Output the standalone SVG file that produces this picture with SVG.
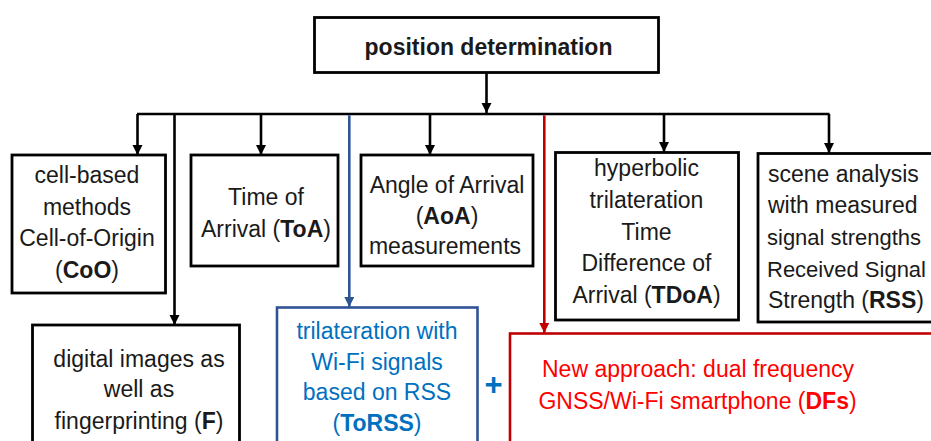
<svg xmlns="http://www.w3.org/2000/svg" width="931" height="441" viewBox="0 0 931 441">
  <defs>
    <marker id="ahK" markerUnits="userSpaceOnUse" markerWidth="10" markerHeight="12" refX="10" refY="5" orient="auto">
      <path d="M0,0 L10,5 L0,10 Z" fill="#000"/>
    </marker>
    <marker id="ahB" markerUnits="userSpaceOnUse" markerWidth="10" markerHeight="12" refX="10" refY="5" orient="auto">
      <path d="M0,0 L10,5 L0,10 Z" fill="#2F5496"/>
    </marker>
    <marker id="ahR" markerUnits="userSpaceOnUse" markerWidth="10" markerHeight="12" refX="10" refY="5" orient="auto">
      <path d="M0,0 L10,5 L0,10 Z" fill="#C00000"/>
    </marker>
  </defs>
  <style>
    .box { fill: #fff; stroke: #000; stroke-width: 2.8; }
    .t { font-family: "Liberation Sans", Arial, sans-serif; font-size: 23px; fill: #1a1a1a; text-anchor: middle; }
    .s { text-anchor: start; }
    .b { font-weight: bold; }
    .c { fill: none; stroke: #000; stroke-width: 2.6; }
    .ck { marker-end: url(#ahK); }
    .blue { fill: #0070C0; }
    .red { fill: #FF0000; }
  </style>
  <rect width="931" height="441" fill="#fff"/>

  <g id="connectors">
    <line class="c ck" x1="486.5" y1="73" x2="486.5" y2="113"/>
    <line class="c" x1="137" y1="114" x2="829.5" y2="114"/>
    <line class="c ck" x1="137.5" y1="114" x2="137.5" y2="155"/>
    <line class="c ck" x1="174.5" y1="114" x2="174.5" y2="325"/>
    <line class="c ck" x1="261" y1="114" x2="261" y2="155"/>
    <line class="c ck" x1="430" y1="114" x2="430" y2="155"/>
    <line class="c ck" x1="664" y1="114" x2="664" y2="152"/>
    <line class="c ck" x1="829" y1="114" x2="829" y2="153"/>
    <line x1="349.3" y1="115.3" x2="349.3" y2="307" stroke="#2F5496" stroke-width="2.6" marker-end="url(#ahB)"/>
    <line x1="544.3" y1="115.3" x2="544.3" y2="333" stroke="#C00000" stroke-width="2.6" marker-end="url(#ahR)"/>
  </g>

  <g id="node-position">
    <rect class="box" x="314.5" y="17.5" width="344" height="55"/>
    <text class="t b" x="488.5" y="55">position determination</text>
  </g>

  <g id="node-coo">
    <rect class="box" x="12" y="155" width="153.5" height="138"/>
    <text class="t" x="87" y="183">cell-based</text>
    <text class="t" x="87" y="214.5">methods</text>
    <text class="t" x="87" y="246">Cell-of-Origin</text>
    <text class="t" x="87" y="277.5">(<tspan class="b">CoO</tspan>)</text>
  </g>

  <g id="node-toa">
    <rect class="box" x="191" y="155" width="147" height="111"/>
    <text class="t" x="266" y="205">Time of</text>
    <text class="t" x="266" y="236.5">Arrival (<tspan class="b">ToA</tspan>)</text>
  </g>

  <g id="node-aoa">
    <rect class="box" x="361" y="155" width="172" height="111"/>
    <text class="t" x="447" y="193">Angle of Arrival</text>
    <text class="t" x="447" y="224">(<tspan class="b">AoA</tspan>)</text>
    <text class="t" x="445" y="254">measurements</text>
  </g>

  <g id="node-tdoa">
    <rect class="box" x="555.5" y="152.5" width="183" height="167.5"/>
    <text class="t" x="646.5" y="176">hyperbolic</text>
    <text class="t" x="646.5" y="208">trilateration</text>
    <text class="t" x="646.5" y="239.5">Time</text>
    <text class="t" x="646.5" y="271">Difference of</text>
    <text class="t" x="646.5" y="303">Arrival (<tspan class="b">TDoA</tspan>)</text>
  </g>

  <g id="node-rss">
    <rect class="box" x="758" y="153.5" width="190" height="168.5"/>
    <text class="t s" x="768" y="182">scene analysis</text>
    <text class="t s" x="768" y="213">with measured</text>
    <text class="t s" x="767" y="244.5" style="font-size:22px">signal strengths</text>
    <text class="t s" x="767" y="276.5" style="font-size:22px">Received Signal</text>
    <text class="t s" x="768" y="308">Strength (<tspan class="b">RSS</tspan>)</text>
  </g>

  <g id="node-f">
    <rect class="box" x="32.5" y="325" width="207" height="130"/>
    <text class="t" x="139" y="366.5">digital images as</text>
    <text class="t" x="139" y="397">well as</text>
    <text class="t" x="139" y="428.5">fingerprinting (<tspan class="b">F</tspan>)</text>
  </g>

  <g id="node-torss">
    <rect x="277" y="307.5" width="200.5" height="150" fill="#fff" stroke="#2F5496" stroke-width="2.6"/>
    <text class="t blue" x="377" y="338.5">trilateration with</text>
    <text class="t blue" x="377" y="369.5">Wi-Fi signals</text>
    <text class="t blue" x="377" y="400">based on RSS</text>
    <text class="t blue" x="377" y="431">(<tspan class="b">ToRSS</tspan>)</text>
  </g>

  <g id="plus">
    <text class="t b blue" x="493.5" y="395" style="font-size:31px">+</text>
  </g>

  <g id="node-dfs">
    <rect x="510" y="333.5" width="440" height="130" fill="#fff" stroke="#C00000" stroke-width="2.6"/>
    <text class="t red" x="698" y="377">New approach: dual frequency</text>
    <text class="t red" x="697.5" y="408.5">GNSS/Wi-Fi smartphone (<tspan class="b">DFs</tspan>)</text>
  </g>
</svg>
